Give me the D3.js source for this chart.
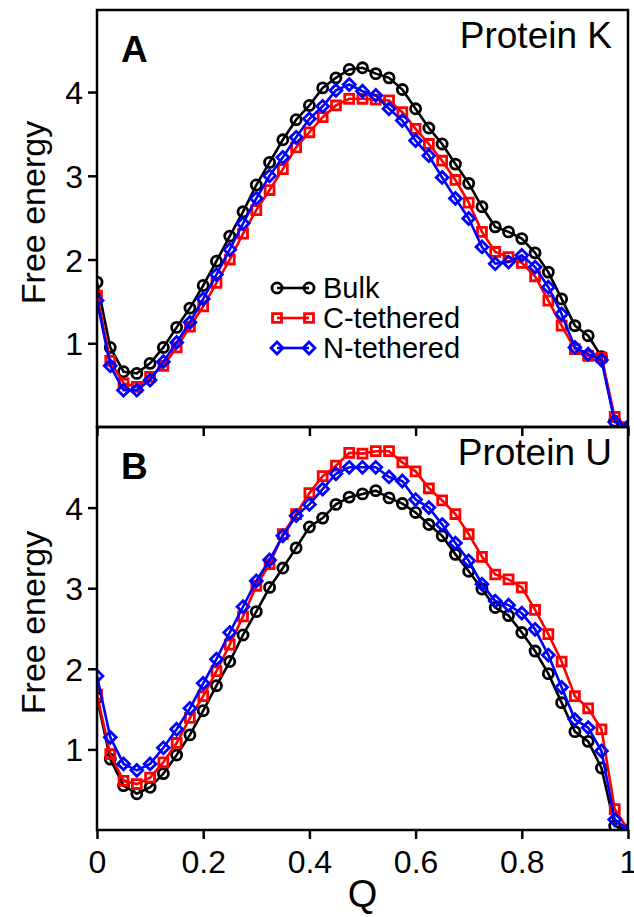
<!DOCTYPE html>
<html>
<head>
<meta charset="utf-8">
<script src="https://cdn.jsdelivr.net/npm/d3@7"></script>
<style>
  body { margin: 0; background: #fff; }
  text { font-family: "Liberation Sans", Arial, sans-serif; fill: #000; }
</style>
</head>
<body>
<div id="chart"></div>
<script>
// Q values, 0 to 1 in steps of 0.025
let qValues = d3.range(41).map(i => i / 40);

// Protein K (panel A)
let kBulk = [1.73,0.95,0.66,0.64,0.76,0.95,1.19,1.42,1.69,1.98,
  2.28,2.57,2.89,3.16,3.43,3.67,3.84,4.05,4.17,4.27,
  4.29,4.22,4.17,4.03,3.80,3.57,3.38,3.14,2.91,2.63,
  2.39,2.33,2.25,2.08,1.85,1.53,1.21,1.09,0.84,0.07,0.0];
let kCTeth = [1.57,0.79,0.52,0.48,0.60,0.73,0.95,1.20,1.44,1.72,
  2.00,2.31,2.59,2.83,3.08,3.34,3.52,3.70,3.84,3.92,
  3.92,3.91,3.90,3.76,3.56,3.38,3.18,2.95,2.68,2.33,
  2.09,2.03,1.96,1.80,1.51,1.21,0.93,0.85,0.83,0.12,0.0];
let kNTeth = [1.51,0.73,0.44,0.44,0.56,0.78,1.01,1.25,1.53,1.82,
  2.12,2.43,2.73,3.00,3.22,3.46,3.68,3.83,4.02,4.09,
  4.01,3.96,3.80,3.66,3.42,3.24,2.98,2.73,2.49,2.15,
  1.95,1.97,2.05,1.91,1.67,1.35,0.95,0.87,0.80,0.06,0.0];

// Protein U (panel B)
let uBulk = [1.64,0.88,0.55,0.45,0.53,0.70,0.93,1.18,1.48,1.79,
  2.09,2.42,2.71,3.01,3.25,3.50,3.76,3.87,4.04,4.13,
  4.17,4.21,4.12,4.05,3.94,3.79,3.65,3.42,3.21,2.99,
  2.76,2.66,2.45,2.22,1.94,1.58,1.22,1.10,0.77,0.05,0.0];
let uCTeth = [1.68,0.94,0.61,0.57,0.65,0.84,1.08,1.39,1.66,1.97,
  2.30,2.65,3.03,3.30,3.67,3.92,4.18,4.39,4.52,4.68,
  4.67,4.70,4.70,4.56,4.45,4.24,4.09,3.92,3.67,3.39,
  3.17,3.11,3.01,2.73,2.43,2.09,1.66,1.51,1.25,0.26,0.0];
let uNTeth = [1.91,1.15,0.82,0.74,0.82,1.02,1.25,1.51,1.82,2.12,
  2.45,2.77,3.09,3.35,3.65,3.90,4.04,4.23,4.42,4.50,
  4.50,4.50,4.38,4.33,4.10,4.00,3.79,3.56,3.34,3.05,
  2.84,2.79,2.69,2.49,2.17,1.77,1.37,1.27,0.98,0.13,0.0];

let seriesNames = ["Bulk", "C-tethered", "N-tethered"];
let xTicks = [0, 0.2, 0.4, 0.6, 0.8, 1];
let yTicks = [1, 2, 3, 4];

let svgWidth = 634;
let svgHeight = 917;

let svg = d3.select("#chart")
  .append("svg")
  .attr("width", svgWidth)
  .attr("height", svgHeight);

let xScale = d3.scaleLinear().domain([0, 1]).range([97, 628]);

// rhombus as wide as it is tall (d3's diamond is narrow)
let squareDiamond = {
  draw: function(context, size) {
    let r = Math.sqrt(size / 2);
    context.moveTo(0, -r);
    context.lineTo(r, 0);
    context.lineTo(0, r);
    context.lineTo(-r, 0);
    context.closePath();
  }
};

let styles = [
  { color: "#000000", symbol: d3.symbolCircle, size: 80 },
  { color: "#ff0000", symbol: d3.symbolSquare, size: 80 },
  { color: "#0000ff", symbol: squareDiamond, size: 70 }
];

let panels = [
  { id: "A", name: "Protein K", top: 10, bottom: 427, yMax: 4.98, series: [kBulk, kCTeth, kNTeth], showX: false, legend: true },
  { id: "B", name: "Protein U", top: 427, bottom: 830, yMax: 5, series: [uBulk, uCTeth, uNTeth], showX: true, legend: false }
];

panels.forEach(function(p, pi) {
  let yScale = d3.scaleLinear().domain([0, p.yMax]).range([p.bottom, p.top]);
  let g = svg.append("g");

  // clip so lines stop at the frame
  g.append("clipPath").attr("id", "clip" + pi)
    .append("rect")
    .attr("x", xScale(0)).attr("y", p.top)
    .attr("width", xScale(1) - xScale(0)).attr("height", p.bottom - p.top);

  // left axis
  let leftAxis = d3.axisLeft(yScale).tickValues(yTicks).tickSize(9).tickPadding(5).tickFormat(d3.format("d"));
  let yAxis = g.append("g")
    .attr("transform", `translate(${xScale(0)},0)`)
    .call(leftAxis);
  yAxis.select(".domain").remove();
  yAxis.selectAll("line").attr("stroke", "#000").attr("stroke-width", 2.5);
  yAxis.selectAll("text").style("font-size", "32px").attr("dy", "0.36em");

  // bottom axis
  let bottomAxis = d3.axisBottom(xScale).tickValues(xTicks).tickSize(9).tickPadding(5)
    .tickFormat(p.showX ? (d => d) : "");
  let xAxis = g.append("g")
    .attr("transform", `translate(0,${p.bottom})`)
    .call(bottomAxis);
  xAxis.select(".domain").remove();
  xAxis.selectAll("line").attr("stroke", "#000").attr("stroke-width", 2.5);
  xAxis.selectAll("text").style("font-size", "32px").attr("dy", "0.9em");

  // data
  let plot = g.append("g").attr("clip-path", `url(#clip${pi})`);
  p.series.forEach(function(vals, si) {
    let st = styles[si];
    let pts = qValues.map((q, i) => [q, vals[i]]);
    let line = d3.line().x(d => xScale(d[0])).y(d => yScale(d[1]));
    plot.append("path")
      .datum(pts)
      .attr("d", line)
      .attr("fill", "none")
      .attr("stroke", st.color)
      .attr("stroke-width", 2.6);
    plot.selectAll(".m" + si)
      .data(pts)
      .enter()
      .append("path")
      .attr("class", "m" + si)
      .attr("transform", d => `translate(${xScale(d[0])},${yScale(d[1])})`)
      .attr("d", d3.symbol().type(st.symbol).size(st.size))
      .attr("fill", "none")
      .attr("stroke", st.color)
      .attr("stroke-width", 2.8);
  });

  // frame
  g.append("rect")
    .attr("x", xScale(0)).attr("y", p.top)
    .attr("width", xScale(1) - xScale(0)).attr("height", p.bottom - p.top)
    .attr("fill", "none")
    .attr("stroke", "#000")
    .attr("stroke-width", 2.5);

  // panel letter and protein name
  g.append("text")
    .attr("x", 121).attr("y", p.top + 52)
    .style("font-size", "37px").style("font-weight", "bold")
    .text(p.id);
  g.append("text")
    .attr("x", 612).attr("y", p.top + 38)
    .attr("text-anchor", "end")
    .style("font-size", "37px")
    .text(p.name);

  // y label
  g.append("text")
    .attr("transform", `translate(45,${(p.top + p.bottom) / 2 - 6}) rotate(-90)`)
    .attr("text-anchor", "middle")
    .style("font-size", "34px")
    .text("Free energy");

  // legend
  if (p.legend) {
    let lg = g.append("g");
    seriesNames.forEach(function(name, si) {
      let st = styles[si];
      let ly = 288 + si * 30;
      lg.append("line")
        .attr("x1", 277).attr("x2", 309).attr("y1", ly).attr("y2", ly)
        .attr("stroke", st.color).attr("stroke-width", 2.6);
      [277, 309].forEach(function(lx) {
        lg.append("path")
          .attr("transform", `translate(${lx},${ly})`)
          .attr("d", d3.symbol().type(st.symbol).size(st.size))
          .attr("fill", "none").attr("stroke", st.color).attr("stroke-width", 2.8);
      });
      lg.append("text")
        .attr("x", 323).attr("y", ly + 10)
        .style("font-size", "29px")
        .text(name);
    });
  }
});

// x label
svg.append("text")
  .attr("x", (xScale(0) + xScale(1)) / 2)
  .attr("y", 907)
  .attr("text-anchor", "middle")
  .style("font-size", "38px")
  .text("Q");
</script>
</body>
</html>
